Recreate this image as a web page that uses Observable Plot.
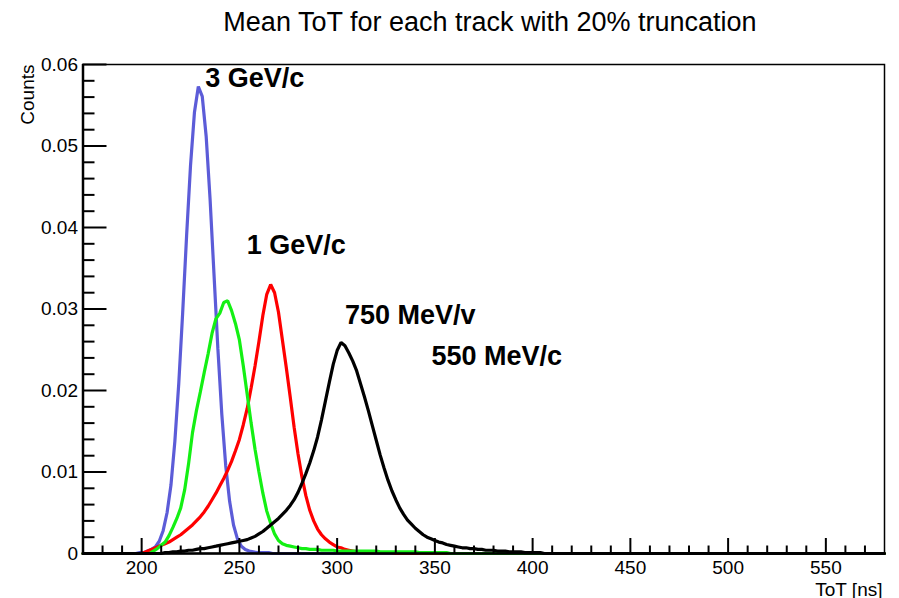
<!DOCTYPE html>
<html><head><meta charset="utf-8">
<script src="https://cdn.jsdelivr.net/npm/d3@7"></script>
<script src="https://cdn.jsdelivr.net/npm/@observablehq/plot@0.6"></script>
<style>
body{margin:0;background:#fff;font-family:"Liberation Sans",Arial,sans-serif;}
#wrap{position:relative;width:899px;height:598px;overflow:hidden;background:#fff;}
#title{position:absolute;left:0;top:0;width:980px;height:44px;text-align:center;font-size:27px;line-height:44px;color:#000;}
#chart{position:absolute;left:0;top:44px;}
</style></head><body>
<div id="wrap"><div id="title">Mean ToT for each track with 20% truncation</div><div id="chart"></div></div>
<script>
// ---- data (bin width 2 ns) ----
const binWidth = 2;
const seriesNames = ["3 GeV/c", "1 GeV/c", "750 MeV/v", "550 MeV/c"];
const seriesColors = ["#5c5cd8", "#ff0000", "#14f014", "#000000"];

const blueStart = 196;
const blueValues = [0,0.0001,0.0001,0.0003,0.0005,0.0008,0.0015,0.0028,0.0050,0.0084,0.0138,0.0209,0.0296,0.0390,0.0476,0.0541,0.0573,0.0561,0.0512,0.0435,0.0343,0.0251,0.0171,0.0108,0.0064,0.0035,0.0018,0.0009,0.0005,0.0003,0.0002,0.0001,0.0001,0.0001,0.0001,0];

const redStart = 199;
const redValues = [0,0.0002,0.0004,0.0006,0.0008,0.0010,0.0012,0.0014,0.0017,0.0020,0.0023,0.0027,0.0031,0.0035,0.0040,0.0045,0.0051,0.0058,0.0066,0.0074,0.0083,0.0092,0.0102,0.0113,0.0126,0.0140,0.0158,0.0178,0.0203,0.0230,0.0260,0.0292,0.0318,0.0330,0.0320,0.0296,0.0262,0.0228,0.0192,0.0155,0.0122,0.0094,0.0071,0.0053,0.0040,0.0030,0.0023,0.0018,0.0014,0.0011,0.0008,0.0007,0.0005,0.0004,0.0003,0.0002,0.0002,0.0001,0.0001,0.0001,0.0001,0.0001,0.0001,0.0001,0.0001,0];

const greenStart = 203;
const greenValues = [0,0.0003,0.0006,0.0010,0.0014,0.0022,0.0032,0.0043,0.0056,0.0078,0.0110,0.0148,0.0175,0.0198,0.0222,0.0245,0.0270,0.0288,0.0295,0.0308,0.0310,0.0298,0.0282,0.0262,0.0230,0.0195,0.0160,0.0128,0.0100,0.0074,0.0052,0.0037,0.0024,0.0016,0.0012,0.0010,0.0009,0.0008,0.0007,0.0006,0.0006,0.0005,0.0005,0.0005,0.0004,0.0004,0.0004,0.0004,0.0003,0.0003,0.0003,0.0003,0.0003,0.0003,0.0003,0.0003,0.0003,0.0003,0.0003,0.0002,0.0002,0.0002,0.0002,0.0002,0.0002,0.0002,0.0002,0.0002,0.0002,0.0001,0.0001,0.0001,0.0001,0.0001,0.0001,0.0001,0.0001,0];

const blackStart = 209;
const blackValues = [0,0.0001,0.0001,0.0002,0.0002,0.0003,0.0003,0.0004,0.0004,0.0005,0.0006,0.0006,0.0007,0.0008,0.0009,0.0010,0.0011,0.0012,0.0013,0.0014,0.0015,0.0016,0.0017,0.0019,0.0021,0.0024,0.0027,0.0031,0.0035,0.0039,0.0043,0.0048,0.0053,0.0059,0.0066,0.0075,0.0086,0.0098,0.0111,0.0126,0.0143,0.0164,0.0187,0.0210,0.0232,0.0249,0.0259,0.0255,0.0246,0.0236,0.0224,0.0208,0.0192,0.0175,0.0157,0.0139,0.0121,0.0105,0.0090,0.0077,0.0066,0.0056,0.0048,0.0041,0.0036,0.0031,0.0027,0.0023,0.0020,0.0018,0.0016,0.0014,0.0013,0.0011,0.0010,0.0009,0.0008,0.0007,0.0007,0.0006,0.0006,0.0005,0.0005,0.0004,0.0004,0.0004,0.0003,0.0003,0.0003,0.0002,0.0002,0.0002,0.0002,0.0001,0.0001,0.0001,0.0001,0.0001,0];

const xDomain = [170, 580];
const yDomain = [0, 0.06];
const xMajorTicks = [200, 250, 300, 350, 400, 450, 500, 550];
const xMinorTicks = [180,190,210,220,230,240,260,270,280,290,310,320,330,340,360,370,380,390,410,420,430,440,460,470,480,490,510,520,530,540,560,570];
const yMajorTicks = [0, 0.01, 0.02, 0.03, 0.04, 0.05, 0.06];
const yMinorTicks = [0.002,0.004,0.006,0.008,0.012,0.014,0.016,0.018,0.022,0.024,0.026,0.028,0.032,0.034,0.036,0.038,0.042,0.044,0.046,0.048,0.052,0.054,0.056,0.058];

const labelTexts = ["3 GeV/c", "1 GeV/c", "750 MeV/v", "550 MeV/c"];
const labelX = [232.5, 253.8, 304.0, 348.3];
const labelY = [0.0572, 0.0368, 0.0282, 0.0231];

// ---- build table ----
const series = [
  {name: seriesNames[0], start: blueStart, values: blueValues},
  {name: seriesNames[1], start: redStart, values: redValues},
  {name: seriesNames[2], start: greenStart, values: greenValues},
  {name: seriesNames[3], start: blackStart, values: blackValues}
];
const rows = [];
for (const s of series) {
  rows.push({series: s.name, x: xDomain[0], y: 0});
  s.values.forEach((v, i) => rows.push({series: s.name, x: s.start + i * binWidth + binWidth / 2, y: v}));
  rows.push({series: s.name, x: xDomain[1], y: 0});
}
const labels = labelTexts.map((t, i) => ({text: t, x: labelX[i], y: labelY[i]}));

const chart = Plot.plot({
  width: 899, height: 554,
  marginTop: 20, marginBottom: 45, marginLeft: 82.5, marginRight: 15,
  style: {fontFamily: "'Liberation Sans', Arial, sans-serif", fontSize: "19px", color: "#000", background: "#fff", overflow: "visible"},
  x: {domain: xDomain},
  y: {domain: yDomain},
  color: {domain: seriesNames, range: seriesColors},
  marks: [
    Plot.line(rows, {x: "x", y: "y", z: "series", stroke: "series", strokeWidth: 3.2, curve: "linear", strokeLinejoin: "miter"}),
    Plot.frame({strokeWidth: 1.5}),
    Plot.ruleY([yDomain[0]], {strokeWidth: 2.5}),
    Plot.ruleX([xDomain[0]], {strokeWidth: 2.5}),
    Plot.axisX({ticks: xMajorTicks, tickSize: 0, tickPadding: 7, tickFormat: d => String(d), label: null, fontSize: 19}),
    Plot.axisX({ticks: xMajorTicks, tickSize: 15, dy: -15, strokeWidth: 2, fill: "none", label: null}),
    Plot.axisX({ticks: xMinorTicks, tickSize: 7.5, dy: -7.5, strokeWidth: 2, fill: "none", label: null}),
    Plot.axisY({ticks: yMajorTicks, tickSize: 0, tickPadding: 5, tickFormat: d => d === 0 ? "0" : d.toFixed(2), label: null, fontSize: 19}),
    Plot.axisY({ticks: yMajorTicks, tickSize: 24, dx: 24, strokeWidth: 2, fill: "none", label: null}),
    Plot.axisY({ticks: yMinorTicks, tickSize: 12, dx: 12, strokeWidth: 2, fill: "none", label: null}),
    Plot.text(labels, {x: "x", y: "y", text: "text", textAnchor: "start", lineAnchor: "bottom", fontWeight: "bold", fontSize: 27}),
    Plot.text(["Counts"], {text: d => d, frameAnchor: "top-left", rotate: -90, textAnchor: "end", lineAnchor: "bottom", dx: -49, dy: 0, fontSize: 19}),
    Plot.text(["ToT [ns]"], {text: d => d, frameAnchor: "bottom-right", textAnchor: "end", lineAnchor: "bottom", dx: -2, dy: 42, fontSize: 19})
  ]
});
document.getElementById("chart").appendChild(chart);
</script>
</body></html>
